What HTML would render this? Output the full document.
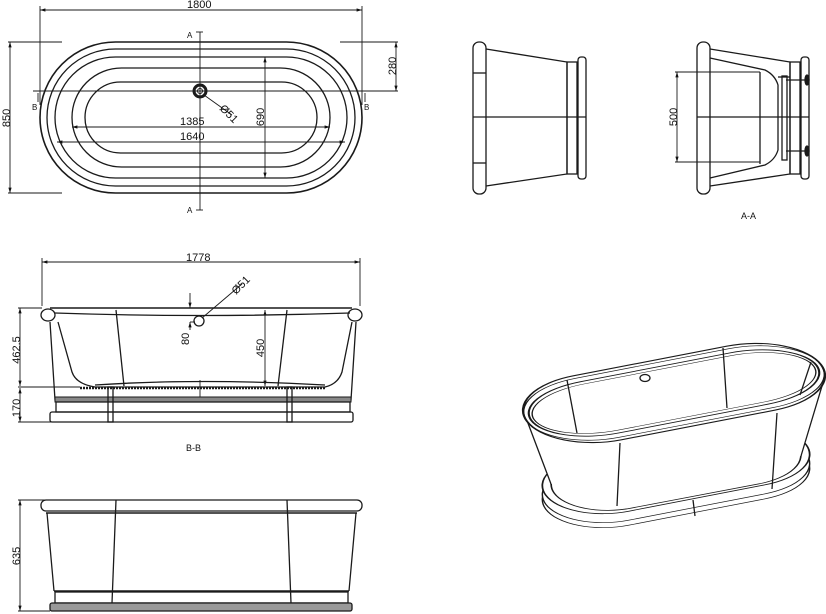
<!DOCTYPE html>
<html><head><meta charset="utf-8"><style>
html,body{margin:0;padding:0;background:#fff;}
svg{display:block;}
text{font-family:"Liberation Sans",sans-serif;fill:#111;}
</style></head><body>
<svg width="826" height="614" viewBox="0 0 826 614" xmlns="http://www.w3.org/2000/svg">
<defs>
<marker id="ar" viewBox="0 0 10 10" refX="10" refY="5" markerWidth="6" markerHeight="6" orient="auto-start-reverse"><path d="M0,2 L10,5 L0,8" fill="#111"/></marker>
<path id="st" d="M-1.1,-1 L1.1,-1 A1,1 0 0 1 1.1,1 L-1.1,1 A1,1 0 0 1 -1.1,-1 Z"/>
</defs>
<g fill="none" stroke="#1a1a1a" stroke-width="1.3">
<!-- TOP VIEW -->
<rect x="40" y="42" width="322" height="151" rx="75.5" stroke-width="1.6"/>
<rect x="47" y="49" width="308" height="137" rx="68.5"/>
<rect x="55" y="57" width="292" height="121" rx="60.5"/>
<rect x="72" y="68" width="258" height="99" rx="49.5"/>
<rect x="85" y="82" width="232" height="71" rx="35.5"/>
<g stroke-width="0.9">
<line x1="40" y1="10" x2="362" y2="10" marker-start="url(#ar)" marker-end="url(#ar)"/>
<line x1="40" y1="6" x2="40" y2="105"/><line x1="362" y1="6" x2="362" y2="105"/>
<line x1="10" y1="42" x2="10" y2="193" marker-start="url(#ar)" marker-end="url(#ar)"/>
<line x1="8" y1="42" x2="62" y2="42"/><line x1="8" y1="193" x2="62" y2="193"/>
<line x1="396" y1="42" x2="396" y2="91" marker-start="url(#ar)" marker-end="url(#ar)"/>
<line x1="340" y1="42" x2="398" y2="42"/><line x1="362" y1="91" x2="398" y2="91"/>
<line x1="33" y1="91" x2="366" y2="91"/>
<line x1="38" y1="93" x2="38" y2="102"/><line x1="365" y1="93" x2="365" y2="102"/>
<line x1="200" y1="32" x2="200" y2="210"/>
<line x1="196" y1="32" x2="203" y2="32"/><line x1="196" y1="210" x2="203" y2="210"/>
<line x1="265" y1="57" x2="265" y2="178" marker-start="url(#ar)" marker-end="url(#ar)"/>
<line x1="72" y1="127" x2="330" y2="127" marker-start="url(#ar)" marker-end="url(#ar)"/>
<line x1="57" y1="142" x2="345" y2="142" marker-start="url(#ar)" marker-end="url(#ar)"/>
<line x1="204" y1="95" x2="232" y2="115"/>
</g>
<circle cx="200" cy="91" r="6" stroke-width="3"/>
<circle cx="200" cy="91" r="2.5" stroke-width="1"/>

<!-- END VIEW 1 -->
<rect x="473" y="42" width="13" height="152" rx="6"/>
<line x1="473" y1="73" x2="486" y2="73"/><line x1="473" y1="163" x2="486" y2="163"/>
<path d="M486,49 L567,62 L567,174 L486,186"/>
<rect x="567" y="62" width="10" height="112"/>
<rect x="578" y="57" width="8" height="122" rx="3"/>
<line x1="473" y1="117" x2="586" y2="117"/>

<!-- A-A VIEW -->
<rect x="697" y="42" width="13" height="152" rx="6"/>
<path d="M710,49 L790,62 L790,174 L710,186"/>
<path d="M710,58 L765,70 Q775,75 778,85 L778,150 Q775,160 765,165 L710,178"/>
<path d="M760,72 L760,164"/>
<line x1="778" y1="77" x2="790" y2="77"/>
<rect x="782" y="76" width="5" height="84"/>
<rect x="790" y="62" width="10" height="112"/>
<rect x="801" y="57" width="8" height="122" rx="3"/>
<line x1="786" y1="80" x2="808" y2="80"/><line x1="786" y1="151" x2="808" y2="151"/>
<ellipse cx="807" cy="80" rx="2" ry="5" fill="#1a1a1a"/>
<ellipse cx="807" cy="151" rx="2" ry="5" fill="#1a1a1a"/>
<line x1="697" y1="117" x2="809" y2="117"/>
<g stroke-width="0.9">
<line x1="677" y1="72" x2="677" y2="162" marker-start="url(#ar)" marker-end="url(#ar)"/>
<line x1="675" y1="72" x2="760" y2="72"/><line x1="675" y1="162" x2="760" y2="162"/>
</g>

<!-- B-B SECTION -->
<g stroke-width="0.9">
<line x1="42" y1="262" x2="360" y2="262" marker-start="url(#ar)" marker-end="url(#ar)"/>
<line x1="42" y1="258" x2="42" y2="306"/><line x1="360" y1="258" x2="360" y2="306"/>
<line x1="20" y1="308" x2="20" y2="386" marker-start="url(#ar)" marker-end="url(#ar)"/>
<line x1="20" y1="388" x2="20" y2="422" marker-start="url(#ar)" marker-end="url(#ar)"/>
<line x1="18" y1="308" x2="42" y2="308"/><line x1="18" y1="387" x2="80" y2="387"/><line x1="18" y1="422" x2="52" y2="422"/>
<line x1="265" y1="310" x2="265" y2="386" marker-start="url(#ar)" marker-end="url(#ar)"/>
<line x1="190" y1="293" x2="190" y2="308" marker-end="url(#ar)"/>
<line x1="190" y1="330" x2="190" y2="322" marker-end="url(#ar)"/>
<line x1="190" y1="322" x2="195" y2="322"/>
<line x1="202" y1="318" x2="242" y2="284"/>
<line x1="200" y1="380" x2="200" y2="398"/>
</g>
<line x1="50" y1="308" x2="352" y2="308" stroke-width="1.5"/>
<path d="M55,313 Q200,318 350,313"/>
<ellipse cx="48" cy="315" rx="7" ry="6"/>
<ellipse cx="355" cy="315" rx="7" ry="6"/>
<path d="M50,322 L55,400 L65,400"/>
<path d="M356,322 L351,400 L340,400"/>
<path d="M58,322 L72,372 Q76,384 95,387 L325,387 Q338,384 342,372 L352,322"/>
<path d="M95,385 Q200,378 325,385"/>
<line x1="116" y1="310" x2="124" y2="386"/><line x1="287" y1="310" x2="278" y2="386"/>
<circle cx="199" cy="321" r="5"/>
<path d="M80,388 L325,388" stroke-dasharray="2 1" stroke-width="2.5"/>
<rect x="55" y="397" width="296" height="5" fill="#888" stroke-width="1"/>
<rect x="56" y="402" width="294" height="10"/>
<rect x="50" y="412" width="303" height="10" rx="2"/>
<rect x="108" y="387" width="5" height="35"/><rect x="287" y="387" width="5" height="35"/>

<!-- FRONT VIEW -->
<g stroke-width="0.9">
<line x1="20" y1="500" x2="20" y2="611" marker-start="url(#ar)" marker-end="url(#ar)"/>
<line x1="18" y1="500" x2="45" y2="500"/><line x1="18" y1="611" x2="50" y2="611"/>
</g>
<rect x="41" y="500" width="321" height="11" rx="5"/>
<line x1="46" y1="513" x2="357" y2="513" stroke-width="1.6"/>
<path d="M47,513 L54,591 M356,513 L349,591"/>
<line x1="54" y1="591" x2="349" y2="591" stroke-width="1.6"/>
<rect x="55" y="592" width="293" height="11"/>
<rect x="50" y="603" width="302" height="8" rx="2" fill="#999"/>
<line x1="116" y1="500" x2="112" y2="603"/><line x1="287" y1="500" x2="291" y2="603"/>

<!-- ISOMETRIC -->
<g transform="matrix(62,-12,21,28,676,484)"><use href="#st" fill="#fff" stroke-width="0.022"/></g>
<g transform="matrix(62,-12,21,28,676,479)"><use href="#st" fill="#fff" stroke-width="0.022"/></g>
<g transform="matrix(62,-12,21,28,676,470)"><use href="#st" fill="#fff" stroke-width="0.027"/></g>
<g transform="matrix(58,-11,19,26,676,470)"><use href="#st" fill="#fff" stroke-width="0.027"/></g>
<path d="M523,410 L551,484 L801,456 L825,376 Z" fill="#fff" stroke="none"/>
<path d="M523,410 L551,484 M825,376 L801,456"/>
<g transform="matrix(70,-13.5,24,32,674,393)">
<use href="#st" fill="#fff" stroke-width="0.03"/>
<g transform="scale(1,0.92)"><use href="#st" stroke-width="0.02"/></g>
<g transform="scale(0.97,0.8)"><use href="#st" stroke-width="0.03"/></g>
<g transform="scale(0.95,0.72)"><use href="#st" stroke-width="0.02"/></g>
</g>
<path d="M620,443 L617,506 M777,413 L772,489 M693,500 L695,516"/>
<path d="M567,380 L577,433 M723,348 L727,408 M811,362 L800,395"/>
<ellipse cx="645" cy="378" rx="5" ry="3.5"/>
</g>

<g font-size="11">
<text x="187" y="8">1800</text>
<text x="180" y="125">1385</text>
<text x="180" y="140">1640</text>
<text x="187" y="38" font-size="8">A</text>
<text x="187" y="213" font-size="8">A</text>
<text x="32" y="110" font-size="8">B</text>
<text x="364" y="110" font-size="8">B</text>
<text transform="translate(10,118) rotate(-90)" text-anchor="middle">850</text>
<text transform="translate(396,66) rotate(-90)" text-anchor="middle">280</text>
<text transform="translate(264,117) rotate(-90)" text-anchor="middle">690</text>
<text transform="translate(219,109) rotate(45)" >Ø51</text>
<text transform="translate(677,117) rotate(-90)" text-anchor="middle">500</text>
<text x="741" y="219" font-size="9">A-A</text>
<text x="186" y="261">1778</text>
<text transform="translate(236,295) rotate(-45)">Ø51</text>
<text transform="translate(189,345) rotate(-90)">80</text>
<text transform="translate(264,348) rotate(-90)" text-anchor="middle">450</text>
<text transform="translate(20,350) rotate(-90)" text-anchor="middle">462.5</text>
<text transform="translate(20,408) rotate(-90)" text-anchor="middle">170</text>
<text x="186" y="451" font-size="9">B-B</text>
<text transform="translate(20,556) rotate(-90)" text-anchor="middle">635</text>
</g>
</svg>
</body></html>
